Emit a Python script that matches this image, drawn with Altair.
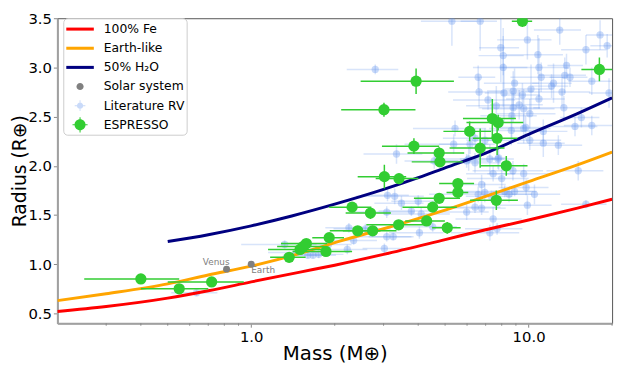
import altair as alt
import pandas as pd

# ---------------- data ----------------
# model curves
fe_mass = [0.2, 0.3, 0.5, 0.7, 1.0, 1.5, 2.0, 3.0, 5.0, 7.0, 10.0, 15.0, 20.0]
fe_radius = [0.52, 0.57, 0.655, 0.73, 0.82, 0.92, 0.99, 1.10, 1.25, 1.35, 1.45, 1.57, 1.66]
earth_mass = [0.2, 0.3, 0.5, 0.7, 1.0, 1.5, 2.0, 3.0, 5.0, 7.0, 10.0, 15.0, 20.0]
earth_radius = [0.63, 0.70, 0.80, 0.89, 0.98, 1.11, 1.22, 1.36, 1.55, 1.69, 1.84, 2.01, 2.14]
water_mass = [0.5, 0.7, 1.0, 1.4, 2.0, 3.0, 4.0, 5.0, 7.0, 10.0, 15.0, 20.0]
water_radius = [1.23, 1.30, 1.39, 1.49, 1.61, 1.76, 1.88, 1.98, 2.13, 2.32, 2.53, 2.69]

# solar system
solar_name = ["Venus", "Earth"]
solar_mass = [0.815, 1.0]
solar_radius = [0.95, 1.0]

# literature RV planets
lit_mass = [2.80, 5.29, 6.69, 7.94, 8.10, 8.10, 6.58, 6.63, 7.14, 8.15, 8.90, 8.80, 8.80, 5.43,
            12.95, 9.90, 18.1, 19.2, 16.1, 10.8, 10.9, 13.7, 11.1, 13.5, 14.1, 16.9, 12.3, 12.1,
            13.2, 10.2, 9.50, 10.9, 9.25, 9.60, 13.4, 15.5, 10.1, 16.9, 9.76, 19.5, 7.65, 8.70,
            6.41, 6.96, 8.66, 5.37, 6.08, 6.41, 7.25, 8.78, 7.45, 6.77, 6.58, 6.95, 7.34, 5.98,
            6.77, 7.45, 4.04, 4.51, 8.20, 8.50, 4.00, 4.10, 9.60, 11.3, 14.7, 10.1, 11.3, 12.8,
            9.60, 15.1, 9.80, 10.5, 8.90, 9.90, 16.1, 3.34, 3.10, 3.29, 3.48, 3.08, 3.78, 2.25,
            3.08, 3.25, 3.02, 6.41, 7.25, 7.70, 2.58, 2.34, 2.22, 1.67, 1.75, 0.635, 1.32, 1.60,
            6.15, 4.57, 5.98, 8.00, 7.80, 7.75, 1.45, 1.90]
lit_radius = [2.98, 3.47, 3.47, 3.20, 3.12, 3.00, 2.90, 2.75, 2.67, 2.74, 2.84, 2.76, 2.59, 2.38,
              3.38, 3.28, 3.33, 3.22, 3.18, 3.13, 3.00, 3.02, 2.90, 2.92, 2.90, 2.86, 2.84, 2.81,
              2.75, 2.78, 2.72, 2.68, 2.62, 2.58, 2.59, 2.49, 2.53, 2.41, 2.39, 2.74, 2.61, 2.51,
              2.28, 2.26, 2.36, 2.22, 2.07, 2.03, 2.07, 1.95, 1.92, 1.81, 1.71, 1.73, 1.69, 1.53,
              1.57, 1.46, 1.32, 1.38, 1.74, 1.71, 1.64, 1.51, 2.38, 2.35, 2.40, 2.26, 2.23, 2.21,
              1.92, 1.95, 1.78, 1.71, 1.74, 1.60, 1.61, 2.12, 1.70, 1.69, 1.62, 1.53, 1.54, 1.37,
              1.28, 1.28, 1.16, 1.58, 1.32, 1.36, 1.36, 1.24, 1.15, 1.09, 1.10, 0.71, 1.20, 1.09,
              2.22, 2.05, 2.05, 1.87, 2.08, 2.07, 1.12, 1.20]
lit_mass_err = [0.59, 1.2, 1.0, 1.3, 1.5, 1.8, 1.0, 1.5, 1.8, 1.2, 2.0, 1.6, 2.2, 1.6,
                2.5, 2.2, 2.0, 2.5, 3.0, 2.5, 3.0, 2.0, 2.5, 2.6, 2.2, 3.0, 2.0, 1.8,
                3.5, 2.0, 1.5, 2.6, 2.0, 2.8, 3.0, 2.5, 2.4, 3.5, 2.0, 3.0, 1.7, 2.0,
                1.5, 1.0, 2.0, 1.8, 1.5, 2.0, 1.6, 2.5, 1.5, 1.5, 2.2, 1.8, 1.4, 1.2,
                1.5, 2.0, 0.9, 1.0, 2.5, 1.8, 0.8, 1.1, 2.4, 2.5, 3.0, 3.0, 2.2, 2.8,
                2.5, 3.5, 2.0, 2.5, 1.5, 2.2, 3.0, 0.8, 0.6, 0.9, 0.7, 0.8, 0.9, 0.4,
                0.7, 0.6, 0.5, 1.5, 2.0, 1.8, 0.6, 0.5, 0.4, 0.35, 0.4, 0.12, 0.4, 0.3,
                1.4, 1.0, 1.2, 2.0, 0.5, 0.4, 0.3, 0.4]
lit_radius_err = [0.05, 0.25, 0.30, 0.35, 0.20, 0.40, 0.12, 0.15, 0.10, 0.30, 0.15, 0.20, 0.15, 0.08,
                  0.15, 0.20, 0.15, 0.12, 0.15, 0.20, 0.30, 0.12, 0.15, 0.18, 0.10, 0.14, 0.20, 0.12,
                  0.15, 0.25, 0.12, 0.10, 0.15, 0.20, 0.12, 0.10, 0.15, 0.10, 0.12, 0.15, 0.20, 0.25,
                  0.10, 0.12, 0.15, 0.10, 0.12, 0.10, 0.15, 0.10, 0.08, 0.10, 0.08, 0.10, 0.06, 0.08,
                  0.07, 0.12, 0.06, 0.05, 0.06, 0.08, 0.06, 0.07, 0.15, 0.12, 0.10, 0.10, 0.14, 0.10,
                  0.10, 0.10, 0.08, 0.10, 0.05, 0.10, 0.04, 0.10, 0.06, 0.08, 0.07, 0.06, 0.05, 0.05,
                  0.05, 0.04, 0.05, 0.06, 0.08, 0.06, 0.05, 0.04, 0.05, 0.03, 0.04, 0.03, 0.04, 0.03,
                  0.10, 0.08, 0.07, 0.10, 0.12, 0.10, 0.04, 0.05]

# ESPRESSO planets
esp_mass = [0.40, 0.55, 0.72, 1.37, 1.50, 1.54, 1.58, 1.86, 1.91, 2.31, 2.42, 2.69, 2.74, 3.40,
            3.02, 3.41, 3.01, 3.93, 3.86, 4.29, 4.51, 4.76, 5.09, 5.56, 5.56, 4.76, 4.79, 6.13,
            6.69, 7.40, 7.77, 7.70, 8.31, 7.65, 9.5, 18.0]
esp_radius = [0.85, 0.75, 0.82, 1.07, 1.15, 1.18, 1.21, 1.13, 1.27, 1.58, 1.34, 1.52, 1.34, 1.40,
              1.89, 1.87, 2.57, 2.86, 2.20, 1.44, 1.58, 1.67, 1.37, 1.73, 1.82, 2.13, 2.04, 2.35,
              2.18, 2.48, 2.44, 2.28, 2.00, 1.65, 3.47, 2.98]
esp_mass_err = [0.15, 0.15, 0.22, 0.20, 0.35, 0.30, 0.30, 0.45, 0.25, 0.40, 0.50, 0.50, 0.60, 0.80,
                0.60, 0.60, 0.90, 1.45, 0.90, 0.70, 1.00, 0.90, 0.60, 0.50, 0.80, 1.10, 1.00, 1.20,
                1.50, 1.60, 1.80, 1.40, 1.60, 1.50, 0.8, 2.5]
esp_radius_err = [0.04, 0.03, 0.05, 0.05, 0.03, 0.03, 0.04, 0.03, 0.03, 0.05, 0.04, 0.06, 0.04, 0.04,
                  0.12, 0.05, 0.07, 0.13, 0.08, 0.04, 0.05, 0.05, 0.06, 0.05, 0.05, 0.06, 0.05, 0.10,
                  0.20, 0.20, 0.08, 0.17, 0.10, 0.10, 0.06, 0.12]

# axis ticks
x_major = [1, 10]
x_minor = [0.3, 0.4, 0.5, 0.6, 0.7, 0.8, 0.9, 2, 3, 4, 5, 6, 7, 8, 9, 20]
y_ticks = [0.5, 1.0, 1.5, 2.0, 2.5, 3.0, 3.5]

# legend
series_labels = ["100% Fe", "Earth-like", "50% H\u2082O", "Solar system", "Literature RV", "ESPRESSO"]
RED, ORANGE, NAVY, GRAY, BLUE, GREEN = "#ff0000", "#ffa500", "#000080", "#808080", "#6495ed", "#32cd32"
series_colors = [RED, ORANGE, NAVY, GRAY, "rgba(100,149,237,0.35)", GREEN]
LINE = "M-1.55,-0.17L1.55,-0.17L1.55,0.17L-1.55,0.17Z"
SOLAR = "M0.4,0A0.4,0.4 0 1,1 -0.4,0A0.4,0.4 0 1,1 0.4,0Z"
LIT = ("M-0.6,-0.05L0.6,-0.05L0.6,0.05L-0.6,0.05Z M-0.05,-0.6L0.05,-0.6L0.05,0.6L-0.05,0.6Z "
       "M0.35,0A0.35,0.35 0 1,1 -0.35,0A0.35,0.35 0 1,1 0.35,0Z")
ESP = ("M0.62,0A0.62,0.62 0 1,1 -0.62,0A0.62,0.62 0 1,1 0.62,0Z "
       "M-0.85,-0.06L0.85,-0.06L0.85,0.06L-0.85,0.06Z M-0.06,-0.85L0.06,-0.85L0.06,0.85L-0.06,0.85Z")
series_shapes = [LINE, LINE, LINE, SOLAR, LIT, ESP]

# ---------------- chart ----------------
W, H = 562, 309
FONT = "DejaVu Sans"

XS = alt.Scale(type="log", domain=[0.2, 20], nice=False)
YS = alt.Scale(domain=[0.4, 3.5], nice=False, zero=False)
XA = alt.Axis(values=x_major, format=".1f", title="Mass (M\u2295)", titleBaseline="alphabetic", titleY=37)
YA = alt.Axis(values=y_ticks, format=".1f", title="Radius (R\u2295)", titleBaseline="alphabetic", titleX=-32,
              titleFontSize=19)


def X(f):
    return alt.X(f, type="quantitative", scale=XS, axis=XA)


def Y(f):
    return alt.Y(f, type="quantitative", scale=YS, axis=YA)


def curve(m, r, color):
    df = pd.DataFrame({"mass": m, "radius": r})
    return alt.Chart(df).mark_line(color=color, strokeWidth=3, interpolate="monotone", clip=True).encode(
        x=X("mass"), y=Y("radius"))


lit_df = pd.DataFrame({"mass": lit_mass, "radius": lit_radius, "me": lit_mass_err, "re": lit_radius_err})
lit_df["m_lo"] = lit_df["mass"] - lit_df["me"]
lit_df["m_hi"] = lit_df["mass"] + lit_df["me"]
lit_df["r_lo"] = lit_df["radius"] - lit_df["re"]
lit_df["r_hi"] = lit_df["radius"] + lit_df["re"]

esp_df = pd.DataFrame({"mass": esp_mass, "radius": esp_radius, "me": esp_mass_err, "re": esp_radius_err})
esp_df["m_lo"] = esp_df["mass"] - esp_df["me"]
esp_df["m_hi"] = esp_df["mass"] + esp_df["me"]
esp_df["r_lo"] = esp_df["radius"] - esp_df["re"]
esp_df["r_hi"] = esp_df["radius"] + esp_df["re"]

solar_df = pd.DataFrame({"name": solar_name, "mass": solar_mass, "radius": solar_radius})

lit_xerr = alt.Chart(lit_df).mark_rule(color=BLUE, opacity=0.25, strokeWidth=1.5, clip=True).encode(
    x=X("m_lo"), x2="m_hi", y=Y("radius"))
lit_yerr = alt.Chart(lit_df).mark_rule(color=BLUE, opacity=0.25, strokeWidth=1.5, clip=True).encode(
    x=X("mass"), y=Y("r_lo"), y2="r_hi")
lit_pts = alt.Chart(lit_df).mark_point(filled=True, shape="circle", size=55, color=BLUE, opacity=0.35,
                                       clip=True).encode(x=X("mass"), y=Y("radius"))

esp_xerr = alt.Chart(esp_df).mark_rule(color=GREEN, strokeWidth=1.5, clip=True).encode(
    x=X("m_lo"), x2="m_hi", y=Y("radius"))
esp_yerr = alt.Chart(esp_df).mark_rule(color=GREEN, strokeWidth=1.5, clip=True).encode(
    x=X("mass"), y=Y("r_lo"), y2="r_hi")
esp_pts = alt.Chart(esp_df).mark_point(filled=True, shape="circle", size=130, color=GREEN, opacity=1,
                                       clip=True).encode(x=X("mass"), y=Y("radius"))

solar_pts = alt.Chart(solar_df).mark_point(filled=True, shape="circle", size=50, color=GRAY, opacity=1).encode(
    x=X("mass"), y=Y("radius"))
venus_lbl = alt.Chart(solar_df).transform_filter(alt.datum.name == "Venus").mark_text(
    align="right", baseline="alphabetic", dx=3, dy=-4, fontSize=9, font=FONT, color=GRAY).encode(
    x=X("mass"), y=Y("radius"), text="name:N")
earth_lbl = alt.Chart(solar_df).transform_filter(alt.datum.name == "Earth").mark_text(
    align="left", baseline="top", dx=0, dy=2, fontSize=9, font=FONT, color=GRAY).encode(
    x=X("mass"), y=Y("radius"), text="name:N")

minor_df = pd.DataFrame({"t": x_minor})
minor_ticks = alt.Chart(minor_df).mark_rule(color="#888888", strokeWidth=1).encode(
    x=X("t"), y=alt.value(H), y2=alt.value(H + 2.5))

LEG = alt.Legend(orient="none", legendX=6, legendY=0, title=None, labelFontSize=12.5, labelFont=FONT,
                 labelColor="black", symbolSize=324, symbolStrokeWidth=0, padding=2, rowPadding=3.4,
                 symbolOffset=6, labelOffset=15, strokeColor="#cccccc", fillColor="rgba(255,255,255,0.8)",
                 cornerRadius=4, symbolOpacity=1)
legend_df = pd.DataFrame({"series": series_labels})
legend_layer = alt.Chart(legend_df).transform_filter("false").mark_point(filled=True, opacity=1).encode(
    x=X("t"), y=Y("r"),
    color=alt.Color("series:N", scale=alt.Scale(domain=series_labels, range=series_colors), legend=LEG),
    shape=alt.Shape("series:N", scale=alt.Scale(domain=series_labels, range=series_shapes), legend=LEG),
)

chart = alt.layer(
    lit_xerr, lit_yerr, lit_pts,
    curve(fe_mass, fe_radius, RED),
    curve(earth_mass, earth_radius, ORANGE),
    curve(water_mass, water_radius, NAVY),
    solar_pts, venus_lbl, earth_lbl,
    esp_xerr, esp_yerr, esp_pts,
    minor_ticks, legend_layer,
).properties(
    width=W, height=H,
    padding={"left": 50, "top": 8, "right": 7, "bottom": 45},
    autosize=alt.AutoSizeParams(type="none"),
).configure_view(
    stroke="#555555", strokeWidth=1
).configure_axis(
    labelFont=FONT, titleFont=FONT, labelFontSize=15, titleFontSize=20, titleFontWeight="normal",
    labelColor="black", titleColor="black", domainColor="#a0a0a0", domainWidth=2,
    tickColor="#888888", tickSize=4, labelPadding=2, grid=False,
)

chart.save("out.html", embed_options={"renderer": "svg", "actions": False})
